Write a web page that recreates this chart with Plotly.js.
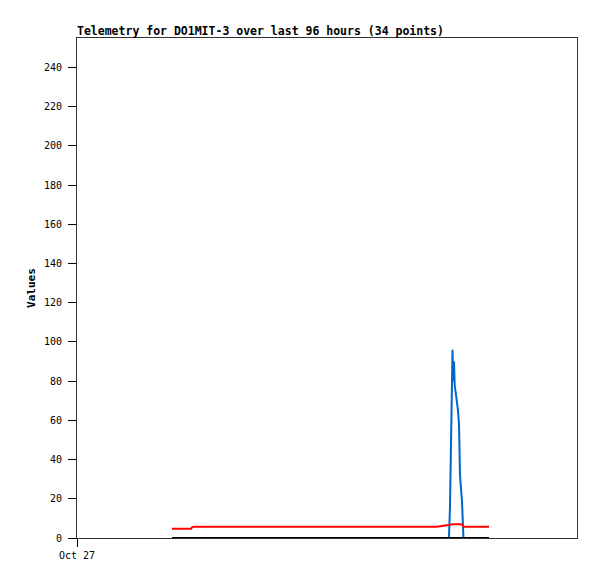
<!DOCTYPE html>
<html>
<head>
<meta charset="utf-8">
<script src="https://cdn.plot.ly/plotly-3.0.1.min.js"></script>
<style>html,body{margin:0;padding:0;background:#fff;}#chart{width:597px;height:579px;}</style>
</head>
<body>
<div id="chart"></div>
<script>
// Sample times
const times = [
  "2023-10-27 18:14", "2023-10-27 21:53", "2023-10-27 22:05", "2023-10-27 22:28",
  "2023-10-29 21:07", "2023-10-29 22:39", "2023-10-29 23:25", "2023-10-29 23:37",
  "2023-10-29 23:48", "2023-10-30 00:06", "2023-10-30 00:15", "2023-10-30 00:23",
  "2023-10-30 00:31", "2023-10-30 00:46", "2023-10-30 00:58", "2023-10-30 01:09",
  "2023-10-30 01:21", "2023-10-30 01:32", "2023-10-30 01:44", "2023-10-30 01:55",
  "2023-10-30 02:12", "2023-10-30 02:24", "2023-10-30 07:06"
];
const blueValues  = [0, 0, 0, 0, 0, 0, 0, 16, 48, 96, 80, 90, 78, 74, 69, 65, 58, 32, 25, 19, 0, 0, 0];
const redValues   = [4.7, 4.7, 5.4, 5.8, 5.8, 6.5, 7, 7, 7, 7, 7, 7, 7, 7, 7, 7, 7, 7, 7, 7, 5.8, 5.8, 5.8];
const blackValues = [0, 0, 0, 0, 0, 0, 0, 0, 0, 0, 0, 0, 0, 0, 0, 0, 0, 0, 0, 0, 0, 0, 0];
const yTicks = [0, 20, 40, 60, 80, 100, 120, 140, 160, 180, 200, 220, 240];
const xTickVals = ["2023-10-27 00:00"];
const xTickText = ["Oct 27"];

const mono = "'DejaVu Sans Mono', 'Liberation Mono', monospace";

const traces = [
  {x: times, y: blueValues, type: "scatter", mode: "lines", line: {color: "#0066cc", width: 2}, hoverinfo: "skip"},
  {x: times, y: blackValues, type: "scatter", mode: "lines", line: {color: "#000000", width: 2}, hoverinfo: "skip"},
  {x: times, y: redValues, type: "scatter", mode: "lines", line: {color: "#ff0000", width: 2}, hoverinfo: "skip"}
];

const layout = {
  width: 597, height: 579,
  margin: {l: 77, r: 20, t: 38, b: 41},
  paper_bgcolor: "#fff", plot_bgcolor: "#fff",
  showlegend: false,
  title: {text: "<b>Telemetry for DO1MIT-3 over last 96 hours (34 points)</b>",
          font: {family: mono, size: 11.5, color: "#000"},
          x: 0, xanchor: "left", xref: "paper", y: 1 - 35/579, yanchor: "bottom"},
  xaxis: {type: "date", range: ["2023-10-27 00:00", "2023-10-31 00:00"],
          tickvals: xTickVals, ticktext: xTickText, ticks: "outside", ticklen: 8, tickcolor: "#000",
          tickfont: {family: mono, size: 10, color: "#000"},
          showgrid: false, zeroline: false, showline: true, linecolor: "#333", linewidth: 1, mirror: true},
  yaxis: {range: [0, 255], tickvals: yTicks, ticks: "outside", ticklen: 8, tickcolor: "#000",
          ticklabelstandoff: 4,
          tickfont: {family: mono, size: 10, color: "#000"},
          title: {text: "<b>Values</b>", font: {family: mono, size: 11, color: "#000"}, standoff: 6},
          showgrid: false, zeroline: false, showline: true, linecolor: "#333", linewidth: 1, mirror: true}
};

Plotly.newPlot("chart", traces, layout, {staticPlot: true, displayModeBar: false});
</script>
</body>
</html>
